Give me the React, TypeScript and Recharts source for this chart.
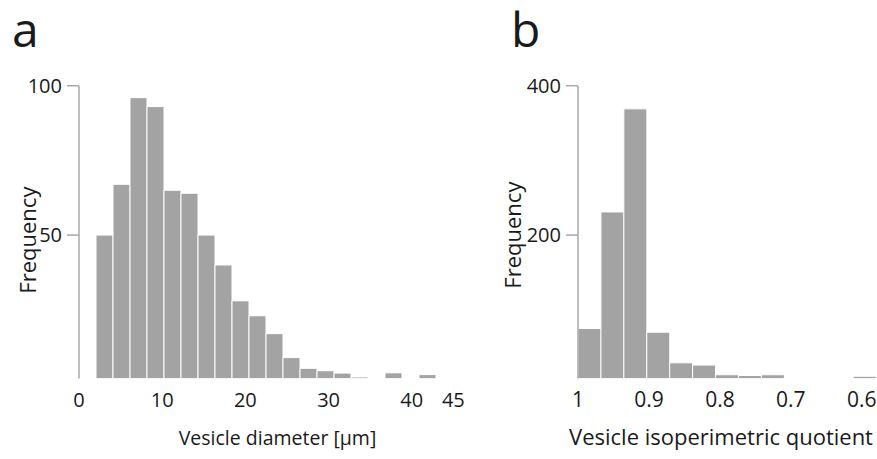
import React from 'react';
import { BarChart, Bar, XAxis, YAxis, Label } from 'recharts';

const FONT = '"Open Sans", "Noto Sans", sans-serif';
const BAR_FILL = '#a3a3a3';
const AXIS_GRAY = '#a8a8a8';
const TEXT = '#1a1a1a';

// ---------- Panel a: vesicle diameter ----------
const diameterBins = [
  '0-2', '2-4', '4-6', '6-8', '8-10', '10-12', '12-14', '14-16', '16-18', '18-20', '20-22', '22-24',
  '24-26', '26-28', '28-30', '30-32', '32-34', '34-36', '36-38', '38-40', '40-42', '42-44', '44-46',
];
const diameterMids = [1, 3, 5, 7, 9, 11, 13, 15, 17, 19, 21, 23, 25, 27, 29, 31, 33, 35, 37, 39, 41, 43, 45];
const diameterFreq = [
  null, 50, 67, 96, 93, 65, 64, 50, 40, 28, 23, 17, 9, 5.4, 4.6, 3.8, 2.5, null, 3.9, null, 3.3, null, null,
];
const diameterXTicks = [0, 10, 20, 30, 40, 45];
const diameterXDomain = [0, 47];
const diameterYTicks = [50, 100];
const diameterYDomain = [2, 100];

// ---------- Panel b: vesicle isoperimetric quotient ----------
const quotientBins = [
  '1.000-0.968', '0.968-0.935', '0.935-0.903', '0.903-0.871', '0.871-0.838', '0.838-0.806', '0.806-0.774',
  '0.774-0.742', '0.742-0.709', '0.709-0.677', '0.677-0.645', '0.645-0.613', '0.613-0.580',
];
const quotientMids = [0.984, 0.952, 0.919, 0.887, 0.855, 0.822, 0.79, 0.758, 0.726, 0.693, 0.661, 0.629, 0.597];
const quotientFreq = [75, 231, 369, 70, 29, 26, 13, 12, 13, null, null, null, 11];
const quotientXTicks = [1, 0.9, 0.8, 0.7, 0.6];
const quotientXDomain = [0.58, 1];
const quotientYTicks = [200, 400];
const quotientYDomain = [8, 400];

const FreqLabel = (props: any) => {
  const { viewBox, labelGap, labelShift } = props;
  if (!viewBox) return null;
  const x = viewBox.x + viewBox.width - labelGap;
  const y = viewBox.y + viewBox.height / 2 + labelShift;
  return (
    <text
      x={x}
      y={y}
      transform={`rotate(-90 ${x} ${y})`}
      textAnchor="middle"
      dominantBaseline="central"
      style={{ fill: TEXT, fontSize: 22, fontFamily: FONT }}
    >
      Frequency
    </text>
  );
};

type HistProps = {
  width: number;
  left: number;
  marginLeft: number;
  marginRight: number;
  bins: string[];
  mids: number[];
  freq: (number | null)[];
  xTicks: number[];
  xDomain: number[];
  reversed: boolean;
  yTicks: number[];
  yDomain: number[];
  xTitle: string;
  titleDx: number;
  titleSize: number;
  xTickSize: number;
  labelGap: number;
  labelShift: number;
};

function Histogram(p: HistProps) {
  const data = p.bins.map((b, i) => ({ bin: b, mid: p.mids[i], freq: p.freq[i] }));
  const yTickStyle = { fill: TEXT, fontSize: 20, fontFamily: FONT };
  const xTickStyle = { fill: TEXT, fontSize: p.xTickSize, fontFamily: FONT };
  return (
    <div style={{ position: 'absolute', left: p.left, top: 0 }}>
      <BarChart
        width={p.width}
        height={459}
        data={data}
        margin={{ top: 85.7, right: p.marginRight, bottom: 0.5, left: p.marginLeft }}
        barCategoryGap={0}
        barGap={0}
      >
        <XAxis xAxisId="bins" dataKey="bin" type="category" hide height={0} />
        <XAxis
          xAxisId="num"
          dataKey="mid"
          type="number"
          domain={p.xDomain}
          allowDataOverflow
          ticks={p.xTicks}
          interval={0}
          reversed={p.reversed}
          axisLine={false}
          tickLine={false}
          tickSize={0}
          tickMargin={14}
          height={80}
          tick={xTickStyle}
        >
          <Label
            value={p.xTitle}
            position="insideBottom"
            offset={14}
            dx={p.titleDx}
            style={{ fill: TEXT, fontSize: p.titleSize, fontFamily: FONT }}
          />
        </XAxis>
        <YAxis
          domain={p.yDomain}
          allowDataOverflow
          ticks={p.yTicks}
          interval={0}
          width={60}
          axisLine={{ stroke: AXIS_GRAY, strokeWidth: 1.5 }}
          tickLine={{ stroke: AXIS_GRAY, strokeWidth: 1.5 }}
          tickSize={12}
          tickMargin={5}
          tick={yTickStyle}
          label={<FreqLabel labelGap={p.labelGap} labelShift={p.labelShift} />}
        />
        <Bar
          xAxisId="bins"
          dataKey="freq"
          fill={BAR_FILL}
          stroke="#ffffff"
          strokeWidth={1}
          isAnimationActive={false}
        />
      </BarChart>
    </div>
  );
}

export default function App() {
  return (
    <div
      style={{
        position: 'absolute',
        left: 0,
        top: 0,
        width: 877,
        height: 459,
        overflow: 'hidden',
        background: '#ffffff',
      }}
    >
      <svg width={877} height={80} style={{ position: 'absolute', left: 0, top: 0 }}>
        <text x={12} y={47} style={{ fill: TEXT, fontSize: 48, fontFamily: FONT }}>
          a
        </text>
        <text x={511} y={47} style={{ fill: TEXT, fontSize: 48, fontFamily: FONT }}>
          b
        </text>
      </svg>
      <Histogram
        width={490}
        left={0}
        marginLeft={19}
        marginRight={20}
        bins={diameterBins}
        mids={diameterMids}
        freq={diameterFreq}
        xTicks={diameterXTicks}
        xDomain={diameterXDomain}
        reversed={false}
        yTicks={diameterYTicks}
        yDomain={diameterYDomain}
        xTitle="Vesicle diameter [µm]"
        titleDx={3}
        titleSize={19.5}
        xTickSize={20}
        labelGap={52}
        labelShift={8}
      />
      <Histogram
        width={387}
        left={490}
        marginLeft={28}
        marginRight={1}
        bins={quotientBins}
        mids={quotientMids}
        freq={quotientFreq}
        xTicks={quotientXTicks}
        xDomain={quotientXDomain}
        reversed={true}
        yTicks={quotientYTicks}
        yDomain={quotientYDomain}
        xTitle="Vesicle isoperimetric quotient"
        titleDx={-6}
        titleSize={22}
        xTickSize={21}
        labelGap={66}
        labelShift={3}
      />
    </div>
  );
}
